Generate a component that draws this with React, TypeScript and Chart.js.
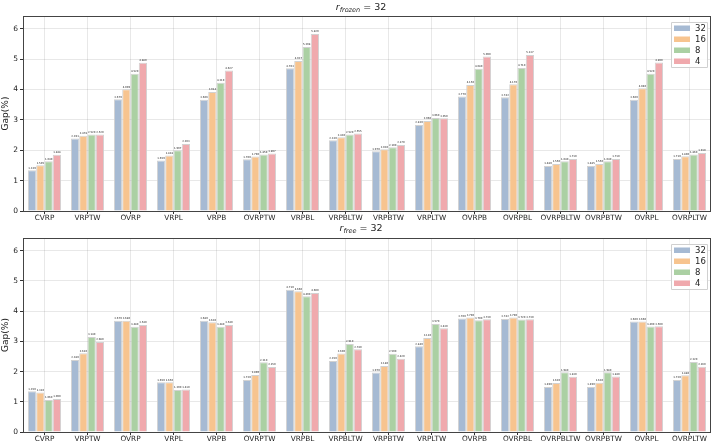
import React, { useEffect, useRef } from "react";
import { Chart, registerables } from "chart.js";
Chart.register(...registerables);

const categories = ["CVRP", "VRPTW", "OVRP", "VRPL", "VRPB", "OVRPTW", "VRPBL", "VRPBLTW", "VRPBTW", "VRPLTW", "OVRPB", "OVRPBL", "OVRPBLTW", "OVRPBTW", "OVRPL", "OVRPLTW"];
const seriesLabels = ["32", "16", "8", "4"];

const frozen32 = [1.339, 2.391, 3.679, 1.659, 3.666, 1.700, 4.703, 2.330, 1.970, 2.830, 3.770, 3.742, 1.480, 1.485, 3.660, 1.710];
const frozen16 = [1.505, 2.478, 4.009, 1.828, 3.914, 1.796, 4.937, 2.430, 2.030, 2.960, 4.150, 4.170, 1.550, 1.550, 4.040, 1.800];
const frozen8 = [1.640, 2.520, 4.520, 1.997, 4.219, 1.859, 5.398, 2.520, 2.100, 3.060, 4.680, 4.710, 1.640, 1.640, 4.520, 1.860];
const frozen4 = [1.848, 2.520, 4.880, 2.203, 4.627, 1.897, 5.829, 2.555, 2.170, 3.050, 5.090, 5.137, 1.710, 1.710, 4.890, 1.910];

const free32 = [1.350, 2.380, 3.679, 1.650, 3.680, 1.720, 4.710, 2.350, 1.970, 2.840, 3.760, 3.742, 1.490, 1.490, 3.660, 1.720];
const free16 = [1.310, 2.610, 3.680, 1.650, 3.630, 1.890, 4.660, 2.600, 2.180, 3.110, 3.790, 3.790, 1.620, 1.630, 3.660, 1.880];
const free8 = [1.060, 3.140, 3.480, 1.390, 3.480, 2.310, 4.490, 2.910, 2.590, 3.570, 3.700, 3.720, 1.980, 1.980, 3.490, 2.320];
const free4 = [1.090, 2.980, 3.540, 1.410, 3.540, 2.150, 4.600, 2.740, 2.420, 3.430, 3.730, 3.730, 1.830, 1.840, 3.500, 2.160];

const colors = ["#a6bad3", "#f7c48f", "#abd0a3", "#f0a9ad"];
const FONT = "'DejaVu Sans', sans-serif";

type PanelProps = { values: number[][]; sub: string; titleY: number; padTop: number; xHeight: number };

function Panel({ values, sub, titleY, padTop, xHeight }: PanelProps) {
  const ref = useRef<HTMLCanvasElement | null>(null);
  useEffect(() => {
    if (!ref.current) return;
    const overlay = {
      id: "overlay",
      afterDatasetsDraw(chart: any) {
        const ctx = chart.ctx;
        ctx.save();
        ctx.fillStyle = "#222";
        ctx.font = `2.6px ${FONT}`;
        ctx.textAlign = "center";
        ctx.textBaseline = "bottom";
        chart.data.datasets.forEach((ds: any, i: number) => {
          const meta = chart.getDatasetMeta(i);
          meta.data.forEach((el: any, j: number) => {
            ctx.fillText(Number(ds.data[j]).toFixed(3), el.x, el.y - 1);
          });
        });
        ctx.restore();
      },
      afterDraw(chart: any) {
        const ctx = chart.ctx;
        const a = chart.chartArea;
        ctx.save();
        ctx.strokeStyle = "#444";
        ctx.lineWidth = 1;
        ctx.strokeRect(Math.round(a.left) + 0.5, Math.round(a.top) + 0.5, Math.round(a.right - a.left) - 1, Math.round(a.bottom - a.top));
        const cx = (a.left + a.right) / 2 - 6;
        ctx.fillStyle = "#222";
        ctx.textBaseline = "alphabetic";
        const fBig = `italic 9.5px ${FONT}`;
        const fSub = `italic 6.5px ${FONT}`;
        const fNorm = `9.5px ${FONT}`;
        ctx.font = fBig; const w1 = ctx.measureText("r").width;
        ctx.font = fSub; const w2 = ctx.measureText(sub).width;
        ctx.font = fNorm; const w3 = ctx.measureText(" = 32").width;
        let x = cx - (w1 + w2 + w3) / 2;
        const by = titleY + 3;
        ctx.textAlign = "left";
        ctx.font = fBig; ctx.fillText("r", x, by); x += w1;
        ctx.font = fSub; ctx.fillText(sub, x, by + 2); x += w2;
        ctx.font = fNorm; ctx.fillText(" = 32", x, by);
        const lx = a.right - 40, ly = a.top + 6, lw = 36, lh = 45;
        ctx.fillStyle = "rgba(255,255,255,0.85)";
        ctx.strokeStyle = "#d0d0d0";
        ctx.beginPath();
        ctx.rect(lx + 0.5, ly + 0.5, lw, lh);
        ctx.fill();
        ctx.stroke();
        ctx.font = `8.5px ${FONT}`;
        ctx.textBaseline = "middle";
        chart.data.datasets.forEach((ds: any, i: number) => {
          const ry = ly + 6 + i * 11;
          ctx.fillStyle = ds.backgroundColor;
          ctx.fillRect(lx + 3, ry - 2.5, 16, 5.5);
          ctx.fillStyle = "#222";
          ctx.fillText(ds.label, lx + 24, ry + 0.5);
        });
        ctx.restore();
      },
    };
    const chart = new Chart(ref.current, {
      type: "bar",
      data: {
        labels: categories,
        datasets: values.map((v, i) => ({
          label: seriesLabels[i],
          data: v,
          backgroundColor: colors[i],
          borderColor: "rgba(205,205,205,0.9)",
          borderWidth: 1,
          categoryPercentage: 0.77,
          barPercentage: 1.0,
        })),
      },
      options: {
        responsive: false,
        animation: false,
        events: [],
        layout: { padding: { top: padTop, right: 3, left: 0, bottom: 0 } },
        plugins: { legend: { display: false }, title: { display: false }, tooltip: { enabled: false } },
        scales: {
          x: {
            grid: { offset: false, color: "rgba(0,0,0,0.09)", tickColor: "#333", tickLength: 3, drawOnChartArea: true },
            border: { display: false },
            ticks: { color: "#222", font: { size: 7.3, family: FONT }, maxRotation: 0, autoSkip: false, padding: 0 },
            afterFit: (s: any) => { s.height = xHeight; },
          },
          y: {
            min: 0,
            max: 6.42,
            grid: { color: "rgba(0,0,0,0.09)", tickColor: "#333", tickLength: 3 },
            border: { display: false },
            ticks: { stepSize: 1, includeBounds: false, color: "#222", font: { size: 7.5, family: FONT }, padding: 2 },
            title: { display: true, text: "Gap(%)", color: "#222", font: { size: 9, family: FONT }, padding: 0 },
            afterFit: (s: any) => { s.width = 23; },
          },
        },
      },
      plugins: [overlay],
    });
    return () => chart.destroy();
  }, [values, sub, titleY, padTop, xHeight]);
  return <canvas ref={ref} width={714} height={223} style={{ display: "block", width: 714, height: 223 }} />;
}

const topValues = [frozen32, frozen16, frozen8, frozen4];
const botValues = [free32, free16, free8, free4];

export default function App() {
  return (
    <div style={{ position: "absolute", left: 0, top: 0, width: 714, height: 446, background: "#fff" }}>
      <Panel values={topValues} sub="frozen" titleY={7} padTop={16} xHeight={12} />
      <Panel values={botValues} sub="free" titleY={5} padTop={15} xHeight={14} />
    </div>
  );
}
